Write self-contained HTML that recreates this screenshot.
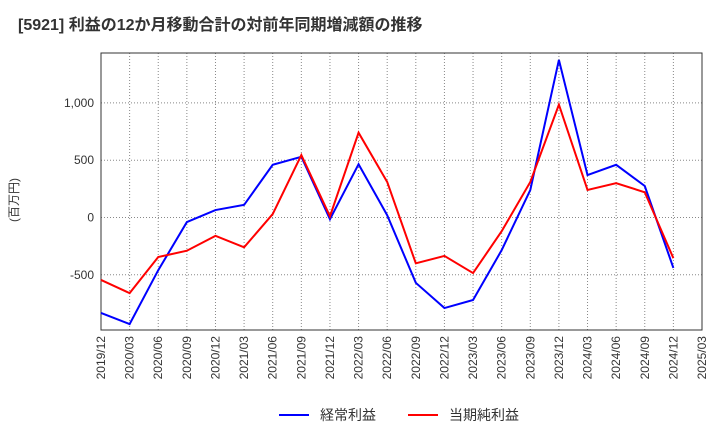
<!DOCTYPE html>
<html><head><meta charset="utf-8"><style>
body{margin:0;background:#fff;font-family:"Liberation Sans","Noto Sans CJK JP",sans-serif;}
</style></head><body>
<svg id="c" width="720" height="440" xmlns="http://www.w3.org/2000/svg">
<text x="18" y="30" font-size="16" font-weight="bold" fill="#333">[5921]  利益の12か月移動合計の対前年同期増減額の推移</text>
<text transform="translate(18,200) rotate(-90)" font-size="12" fill="#333" text-anchor="middle">(百万円)</text>
<g id="grid"></g><g id="axes"></g><g id="series"></g>
<g>
<line x1="279" y1="415" x2="309" y2="415" stroke="#0000ff" stroke-width="2"/>
<text x="320" y="420" font-size="14" fill="#333">経常利益</text>
<line x1="408" y1="415" x2="438" y2="415" stroke="#ff0000" stroke-width="2"/>
<text x="449" y="420" font-size="14" fill="#333">当期純利益</text>
</g>
</svg>
<script>
const categories=["2019/12","2020/03","2020/06","2020/09","2020/12","2021/03","2021/06","2021/09","2021/12","2022/03","2022/06","2022/09","2022/12","2023/03","2023/06","2023/09","2023/12","2024/03","2024/06","2024/09","2024/12","2025/03"];
const keijo=[-833,-930,-460,-40,65,110,460,530,-15,465,20,-570,-790,-720,-285,240,1375,370,460,275,-440];
const junri=[-545,-660,-345,-290,-160,-260,30,545,10,740,310,-400,-335,-485,-120,310,985,240,300,220,-355];
const yTicks=[-500,0,500,1000];
const yTickLabels=["-500","0","500","1,000"];
const L=101,R=702,T=53,B=330;
const xs=i=>L+i*(R-L)/(categories.length-1);
const ys=v=>217.5-v*57.3/500;
const NS="http://www.w3.org/2000/svg";
function mk(t,a,p){const e=document.createElementNS(NS,t);for(const k in a)e.setAttribute(k,a[k]);p.appendChild(e);return e;}
const g=document.getElementById('grid'),ax=document.getElementById('axes'),s=document.getElementById('series');
categories.forEach((c,i)=>{
 const l=mk('line',{x1:xs(i),x2:xs(i),y1:T,y2:B,stroke:'#888','stroke-dasharray':'1,2'},g);
 
 
 const t=mk('text',{transform:`translate(${xs(i)+4},${B+6}) rotate(-90)`,'font-size':'12',fill:'#333','text-anchor':'end'},ax);
 t.textContent=c;
 
 
});
yTicks.forEach((v,i)=>{
 const l=mk('line',{x1:L,x2:R,y1:ys(v),y2:ys(v),stroke:'#888','stroke-dasharray':'1,2'},g);
 
 
 const t=mk('text',{x:L-7,y:ys(v)+4,'font-size':'12',fill:'#333','text-anchor':'end'},ax);
 t.textContent=yTickLabels[i];
 
 
});
const f=mk('rect',{x:L,y:T,width:R-L,height:B-T,fill:'none',stroke:'#333'},ax);


[[keijo,'#0000ff','series-keijo'],[junri,'#ff0000','series-junri']].forEach(([d,col,n])=>{
 const p=mk('polyline',{points:d.map((v,i)=>xs(i)+','+ys(v)).join(' '),fill:'none',stroke:col,'stroke-width':2},s);
 
 
});
</script>
</body></html>
